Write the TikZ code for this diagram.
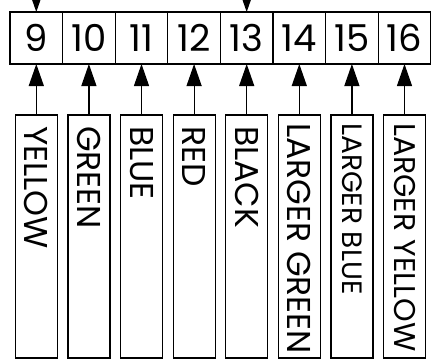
\documentclass[tikz,border=0pt]{standalone}
\usepackage{fontspec}
\setmainfont{Poppins}
\usetikzlibrary{arrows.meta, positioning}

\begin{document}
\begin{tikzpicture}[
  x=1pt, y=-1pt,
  node distance=51pt and 0pt,
  cell/.style={rectangle, draw=black, line width=1.2pt, outer sep=0pt,
               minimum width=52.6pt, minimum height=52pt, inner sep=0pt,
               font=\fontsize{37}{37}\selectfont},
  slot/.style={rectangle, draw=black, line width=1.2pt, outer sep=0pt,
               minimum width=42pt, minimum height=243pt, inner sep=0pt},
  tag/.style={rotate=-90, anchor=west, inner sep=0pt,
              font=\fontsize{#1}{#1}\selectfont},
  tag/.default=33,
  arrow/.style={-{Triangle[length=22pt, width=15pt]}, line width=1.2pt}
]
\useasboundingbox (0,0) rectangle (432,360);

% register cells
\node[cell] (c9) at (36.3,38) {9};
\node[cell, right=of c9] (c10) {10};
\node[cell, right=of c10] (c11) {11};
\node[cell, right=of c11] (c12) {12};
\node[cell, right=of c12] (c13) {13};
\node[cell, right=of c13] (c14) {14};
\node[cell, right=of c14] (c15) {15};
\node[cell, right=of c15] (c16) {16};

% colour inputs
\node[slot, below=of c9] (b9) {};
\node[slot, below=of c10] (b10) {};
\node[slot, below=of c11] (b11) {};
\node[slot, below=of c12] (b12) {};
\node[slot, below=of c13] (b13) {};
\node[slot, below=of c14] (b14) {};
\node[slot, below=of c15] (b15) {};
\node[slot, below=of c16] (b16) {};

\node[tag] (t9) at ([yshift=-11pt]b9.north) {YELLOW};
\node[tag] (t10) at ([yshift=-11pt]b10.north) {GREEN};
\node[tag] (t11) at ([yshift=-11pt]b11.north) {BLUE};
\node[tag] (t12) at ([yshift=-11pt]b12.north) {RED};
\node[tag] (t13) at ([yshift=-11pt]b13.north) {BLACK};
\node[tag] (t14) at ([yshift=-8pt]b14.north) {LARGER GREEN};
\node[tag=28] (t15) at ([yshift=-8pt]b15.north) {LARGER BLUE};
\node[tag=30] (t16) at ([yshift=-8pt]b16.north) {LARGER YELLOW};

\draw[arrow] (b9) -- (c9);
\draw[arrow] (b10) -- (c10);
\draw[arrow] (b11) -- (c11);
\draw[arrow] (b12) -- (c12);
\draw[arrow] (b13) -- (c13);
\draw[arrow] (b14) -- (c14);
\draw[arrow] (b15) -- (c15);
\draw[arrow] (b16) -- (c16);

% incoming from above
\coordinate (in9) at ([yshift=25pt]c9.north);
\coordinate (in13) at ([yshift=25pt]c13.north);
\draw[arrow] (in9) -- (c9);
\draw[arrow] (in13) -- (c13);

\end{tikzpicture}
\end{document}
